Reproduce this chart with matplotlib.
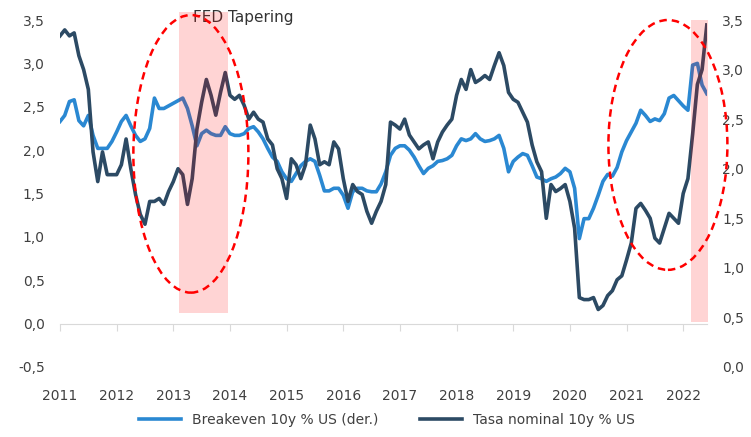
import matplotlib
matplotlib.use("Agg")
import matplotlib.pyplot as plt
from matplotlib.patches import Ellipse
import numpy as np

# monthly readings, Jan 2011 -> May 2022
breakeven = [2.33, 2.40, 2.56, 2.58, 2.34, 2.28, 2.40, 2.17, 2.02, 2.02, 2.02, 2.10,
             2.21, 2.33, 2.40, 2.28, 2.17, 2.10, 2.13, 2.25, 2.60, 2.48, 2.48, 2.51,
             2.54, 2.57, 2.60, 2.48, 2.28, 2.05, 2.19, 2.23, 2.19, 2.17, 2.17, 2.27,
             2.19, 2.17, 2.17, 2.19, 2.25, 2.27, 2.21, 2.13, 2.02, 1.92, 1.87, 1.75,
             1.67, 1.64, 1.73, 1.82, 1.87, 1.90, 1.87, 1.71, 1.53, 1.53, 1.56, 1.56,
             1.48, 1.33, 1.52, 1.56, 1.56, 1.53, 1.52, 1.52, 1.61, 1.75, 1.94, 2.02,
             2.05, 2.05, 2.00, 1.92, 1.82, 1.73, 1.79, 1.82, 1.87, 1.88, 1.90, 1.94,
             2.05, 2.13, 2.11, 2.13, 2.19, 2.13, 2.10, 2.11, 2.13, 2.17, 2.02, 1.75,
             1.87, 1.92, 1.96, 1.94, 1.82, 1.69, 1.67, 1.64, 1.67, 1.69, 1.73, 1.79,
             1.75, 1.56, 0.98, 1.21, 1.21, 1.33, 1.48, 1.64, 1.72, 1.70, 1.80, 1.98,
             2.11, 2.21, 2.31, 2.46, 2.40, 2.33, 2.36, 2.34, 2.42, 2.60, 2.63, 2.57,
             2.51, 2.46, 2.98, 3.00, 2.75, 2.65]

nominal = [3.34, 3.40, 3.34, 3.37, 3.14, 3.00, 2.80, 2.17, 1.87, 2.17, 1.94, 1.94,
           1.94, 2.04, 2.30, 2.00, 1.74, 1.54, 1.44, 1.67, 1.67, 1.70, 1.64, 1.77,
           1.87, 2.00, 1.94, 1.64, 1.90, 2.40, 2.67, 2.90, 2.74, 2.54, 2.77, 2.97,
           2.74, 2.70, 2.74, 2.64, 2.50, 2.57, 2.50, 2.47, 2.30, 2.24, 2.00, 1.90,
           1.70, 2.10, 2.04, 1.90, 2.04, 2.44, 2.30, 2.04, 2.07, 2.04, 2.27, 2.20,
           1.90, 1.67, 1.84, 1.77, 1.74, 1.57, 1.45, 1.57, 1.67, 1.84, 2.47, 2.44,
           2.40, 2.50, 2.34, 2.27, 2.20, 2.24, 2.27, 2.10, 2.27, 2.37, 2.44, 2.50,
           2.74, 2.90, 2.80, 3.00, 2.87, 2.90, 2.94, 2.90, 3.04, 3.17, 3.04, 2.77,
           2.70, 2.67, 2.57, 2.47, 2.24, 2.07, 1.97, 1.50, 1.84, 1.77, 1.80, 1.84,
           1.67, 1.40, 0.70, 0.68, 0.68, 0.70, 0.58, 0.62, 0.72, 0.77, 0.88, 0.92,
           1.08, 1.25, 1.60, 1.65, 1.58, 1.50, 1.30, 1.25, 1.40, 1.55, 1.50, 1.45,
           1.75, 1.90, 2.35, 2.85, 3.00, 3.45]

years = list(range(2011, 2023))
left_ticks = [-0.5, 0.0, 0.5, 1.0, 1.5, 2.0, 2.5, 3.0, 3.5]
right_ticks = [0.0, 0.5, 1.0, 1.5, 2.0, 2.5, 3.0, 3.5]

light = "#2A88D2"
dark = "#2C4A64"
txt = "#404040"

plt.rcParams['font.family'] = ['DejaVu Sans']
t = 2011 + np.arange(len(breakeven)) / 12

fig = plt.figure(figsize=(7.51, 4.37), dpi=100)
ax = fig.add_axes([60 / 751, 1 - 367 / 437, 647 / 751, 347 / 437])
ax2 = ax.twinx()

l1, = ax.plot(t, breakeven, color=light, lw=2.6, solid_joinstyle='round')
l2, = ax2.plot(t, nominal, color=dark, lw=2.6, solid_joinstyle='round')

ax.set_xlim(2011, 2022.42)
ax.set_ylim(-0.5, 3.5)
ax2.set_ylim(0, 3.5)

for a in (ax, ax2):
    for s in a.spines.values():
        s.set_visible(False)
ax.spines['bottom'].set_visible(True)
ax.spines['bottom'].set_position(('data', 0))
ax.spines['bottom'].set_color('#D9D9D9')

ax.set_xticks(years)
ax.set_xticklabels([str(y) for y in years])
ax.tick_params(axis='x', direction='out', length=5, color='#D9D9D9', pad=42,
               labelsize=10, labelcolor=txt)
ax.set_yticks(left_ticks)
ax.set_yticklabels([f"{v:.1f}".replace('.', ',') for v in left_ticks])
ax.tick_params(axis='y', length=0, pad=11, labelsize=10, labelcolor=txt)
ax2.set_yticks(right_ticks)
ax2.set_yticklabels([f"{v:.1f}".replace('.', ',') for v in right_ticks])
ax2.tick_params(axis='y', length=0, pad=11, labelsize=10, labelcolor=txt)

# tapering periods
ax2.axvspan(2013.10, 2013.97, ymin=0.156, ymax=1.023, color='red', alpha=0.17,
            lw=0, zorder=5, clip_on=False)
ax2.axvspan(2022.14, 2022.44, ymin=0.13, ymax=1.0, color='red', alpha=0.17,
            lw=0, zorder=5, clip_on=False)

for cx, cy, w, h in [(2013.31, 2.15, 2.03, 2.80), (2021.73, 2.24, 2.10, 2.52)]:
    e = Ellipse((cx, cy), w, h, fill=False, edgecolor='#FF0000', lw=1.8,
                linestyle=(0, (3, 2)), zorder=6, clip_on=False)
    ax2.add_patch(e)

ax.text(2013.35, 1.006, "FED Tapering", transform=ax.get_xaxis_transform(),
        ha='left', va='center', fontsize=11, color='#333333')

fig.legend([l1, l2], ["Breakeven 10y % US (der.)", "Tasa nominal 10y % US"],
           loc='lower center', bbox_to_anchor=(0.515, -0.005), ncol=2,
           frameon=False, fontsize=10, handlelength=3, columnspacing=3,
           labelcolor=txt)

fig.savefig("out.png", dpi=100)
